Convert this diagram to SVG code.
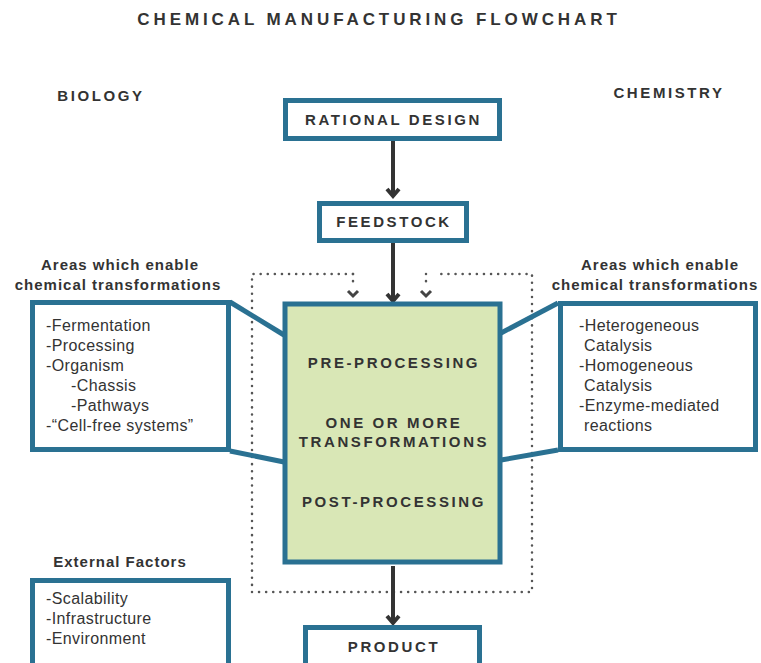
<svg xmlns="http://www.w3.org/2000/svg" width="761" height="663" viewBox="0 0 761 663">
<style>
.t{font-family:"Liberation Sans",Arial,sans-serif;fill:#333}
.cap{font-weight:bold;font-size:15px;letter-spacing:2.6px;text-anchor:middle}
.hd{font-weight:bold;font-size:15px;letter-spacing:1px;text-anchor:middle}
.it{font-size:16px;letter-spacing:0.4px}
.box{fill:#fff;stroke:#2a7192;stroke-width:5}
.edge{stroke:#2a7192;stroke-width:5;fill:none}
.arr{stroke:#333;stroke-width:4;fill:none}
.head{stroke:#333;stroke-width:4;fill:none;stroke-linejoin:miter}
.dot{stroke:#555;stroke-width:2.5;stroke-dasharray:0.1 7;stroke-linecap:round;fill:none}
.sh{fill:none;stroke:#444;stroke-width:3}
</style>
<rect width="761" height="663" fill="#fff"/>
<text class="t" x="379" y="25" text-anchor="middle" font-size="17" font-weight="bold" letter-spacing="3.9">CHEMICAL MANUFACTURING FLOWCHART</text>
<text class="t cap" x="101" y="101">BIOLOGY</text>
<text class="t cap" x="669" y="98">CHEMISTRY</text>

<g id="connectors">
<path class="dot" d="M353,274 H252 V592 H532 V274 H435"/>
<path class="dot" d="M353,274 V288"/>
<path class="dot" d="M426,274 V288"/>
<path class="sh" d="M348,291 L353,296 L358,291"/>
<path class="sh" d="M421,291 L426,296 L431,291"/>
<line class="arr" x1="393" y1="141" x2="393" y2="195"/>
<path class="head" d="M387,189 L393,196 L399,189"/>
<line class="arr" x1="393" y1="243" x2="393" y2="300"/>
<path class="head" d="M387,294 L393,301 L399,294"/>
<line class="arr" x1="393" y1="566" x2="393" y2="622"/>
<path class="head" d="M387,616 L393,623 L399,616"/>
<path class="edge" d="M230,302 L284,335"/>
<path class="edge" d="M230,451 L284,462"/>
<path class="edge" d="M558,303 L501,333"/>
<path class="edge" d="M558,450 L501,460"/>
</g>

<g id="rational-design">
<rect class="box" x="285.5" y="100.5" width="214" height="38"/>
<text class="t cap" x="393.5" y="125">RATIONAL DESIGN</text>
</g>
<g id="feedstock">
<rect class="box" x="319.5" y="203.5" width="147" height="37"/>
<text class="t cap" x="394" y="227">FEEDSTOCK</text>
</g>
<g id="process">
<rect x="285" y="304" width="215" height="258" fill="#d9e7b6" stroke="#2a7192" stroke-width="5"/>
<text class="t cap" x="394" y="368">PRE-PROCESSING</text>
<text class="t cap" x="394" y="428">ONE OR MORE</text>
<text class="t cap" x="394" y="447">TRANSFORMATIONS</text>
<text class="t cap" x="394" y="507">POST-PROCESSING</text>
</g>
<g id="product">
<rect class="box" x="305.5" y="627.5" width="174" height="45"/>
<text class="t cap" x="394" y="652">PRODUCT</text>
</g>
<g id="biology-areas">
<text class="t hd" x="120" y="270">Areas which enable</text>
<text class="t hd" x="118" y="290">chemical transformations</text>
<rect class="box" x="32.5" y="302.5" width="196" height="147"/>
<text class="t it" x="46" y="331">-Fermentation</text>
<text class="t it" x="46" y="351">-Processing</text>
<text class="t it" x="46" y="371">-Organism</text>
<text class="t it" x="71" y="391">-Chassis</text>
<text class="t it" x="71" y="411">-Pathways</text>
<text class="t it" x="46" y="431">-“Cell-free systems”</text>
</g>
<g id="chemistry-areas">
<text class="t hd" x="660" y="270">Areas which enable</text>
<text class="t hd" x="655" y="290">chemical transformations</text>
<rect class="box" x="560.5" y="303.5" width="195" height="146"/>
<text class="t it" x="579" y="331">-Heterogeneous</text>
<text class="t it" x="584" y="351">Catalysis</text>
<text class="t it" x="579" y="371">-Homogeneous</text>
<text class="t it" x="584" y="391">Catalysis</text>
<text class="t it" x="579" y="411">-Enzyme-mediated</text>
<text class="t it" x="584" y="431">reactions</text>
</g>
<g id="external-factors">
<text class="t hd" x="120" y="567">External Factors</text>
<rect class="box" x="32.5" y="580.5" width="196" height="90"/>
<text class="t it" x="46" y="604">-Scalability</text>
<text class="t it" x="46" y="624">-Infrastructure</text>
<text class="t it" x="46" y="644">-Environment</text>
</g>
</svg>
